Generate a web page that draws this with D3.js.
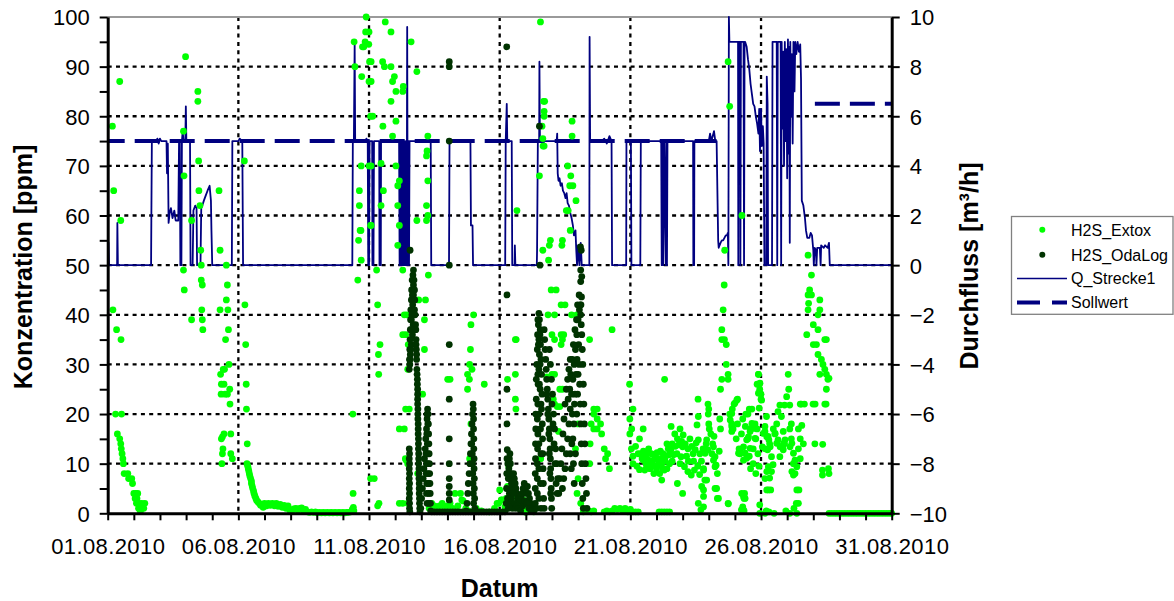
<!DOCTYPE html>
<html>
<head>
<meta charset="utf-8">
<script src="https://cdn.jsdelivr.net/npm/d3@7"></script>
<style>
  html, body { margin: 0; padding: 0; background: #fff; }
  svg { display: block; font-family: "Liberation Sans", Arial, Helvetica, sans-serif; }
</style>
</head>
<body>
<svg id="chart" width="1174" height="601"></svg>
<script>
// ---------------------------------------------------------------
// Data: time in days after 01.08.2010 00:00
// ---------------------------------------------------------------
const dateLabels = ["01.08.2010", "06.08.2010", "11.08.2010", "16.08.2010", "21.08.2010", "26.08.2010", "31.08.2010"];
const ppmTicks = [0, 10, 20, 30, 40, 50, 60, 70, 80, 90, 100];
const flowTicks = [-10, -8, -6, -4, -2, 0, 2, 4, 6, 8, 10];
const seriesNames = ["H2S_Extox", "H2S_OdaLog", "Q_Strecke1", "Sollwert"];

// H2S_Extox [day, ppm]
const extox = [
  [0.18,78],[0.46,87],[0.23,65],[0.5,59],[0.2,41],[0.34,37],[0.51,35],[0.3,20],[0.53,20],[0.37,16],[0.46,15],[0.5,14],[0.52,13],[0.55,12],[0.58,11],[0.6,10],[0.63,8],[0.77,8],[0.8,7],[0.92,7],[0.95,6],[1.0,4],[1.08,4],[1.15,4],[1.05,3],[1.12,3],[1.1,2],[1.2,2],[1.3,2],[1.42,2],[1.18,1],[1.28,1],[1.38,1],[1.25,0.4],
  [2.98,92],[3.45,85],[3.45,83],[2.9,77],[3.48,71],[2.92,68],[3.49,65],[4.26,65],[3.53,62],[3.21,59],[3.56,53],[4.3,53],[3.58,50],[4.54,50],[2.9,49],[3.58,47],[3.62,46],[4.58,46],[2.93,45],[4.54,43],[3.6,41],[4.3,41],[4.6,41],[3.21,39],[3.62,39],[3.64,37],[4.62,37],[4.51,35],[4.64,30],[4.47,29],[4.42,29],[4.32,28],[4.35,26],[4.45,26],[4.67,25],[4.58,24],[4.34,24],[4.49,24],[4.68,22],[4.45,16],[4.71,16],[4.35,15],[4.39,15.4],[4.41,13],[4.39,12],[4.37,10],[4.71,12],[4.77,11],
  [5.23,71],[5.25,42],[5.28,34],[5.3,26],[5.31,21],[5.34,14],[5.33,10],[5.36,9.5],[5.38,9],[5.4,8.5],[5.42,8],[5.44,7.5],[5.47,7],[5.5,6.5],[5.5,6],[5.53,5.5],[5.55,5],[5.58,4.5],[5.6,4],[5.63,3.5],[5.67,3],[5.7,2.6],[5.75,2.3],[5.8,2],[5.85,1.6],[5.9,1.8],[5.95,1.2],[6.0,2],[6.08,1.5],[6.15,2],[6.22,1.6],[6.3,2],[6.38,1.5],[6.45,2],[6.52,1.4],[6.6,1.8],[6.68,1.2],[6.75,1.6],[6.82,1],[6.9,1.5],[6.97,0.6],[7.05,0.5],[7.12,0.9],[7.2,1],[7.28,0.6],[7.35,1],[7.42,1.1],[7.5,0.5],[7.57,0.8],[7.65,0.3],[7.72,0.2],[7.8,0.3],[7.88,0.2],[7.95,0.3],[8.02,0.1],[8.1,0.2],[8.18,0.1],[8.25,0.2],[8.32,0.1],[8.4,0.2],[8.48,0.1],[8.55,0.2],[8.62,0.1],[8.7,0.2],[8.78,0.1],[8.85,0.2],[8.92,0.1],[9.0,0.2],[9.08,0.1],[9.15,0.2],[9.22,0.2],[9.3,0.3],[9.36,0.8],[9.38,20],[9.39,4],[9.4,1.2],[9.42,0.5],
  [9.89,100],[9.87,97],[10.0,97],[9.43,95],[9.8,94],[9.85,95],[9.75,94],[9.99,94.5],[10.02,91],[9.46,90],[9.72,88],[10.0,87],[10.06,80],[9.7,70],[10.0,70],[9.63,65],[9.63,62],[9.66,57],[9.69,57],[9.6,55],[9.7,51],[9.57,47],[10.06,58],[10.06,7],
  [10.62,99],[10.84,97],[11.61,95],[10.08,91],[10.52,91],[10.59,90],[10.84,90],[11.83,89],[10.08,87],[10.97,88],[10.9,87],[11.03,85],[11.31,86],[11.29,85],[10.84,83],[10.14,80],[10.53,78],[11.03,79],[12.25,76],[10.9,76],[12.22,73],[12.2,72],[10.08,70],[10.46,70.5],[11.03,70],[11.16,67],[11.1,66],[12.25,67],[10.55,65],[10.46,62],[11.1,62],[12.2,62],[12.25,60],[12.2,59],[11.83,59],[10.08,58],[11.16,58],[11.1,54],[10.29,49],[11.29,49],[12.27,48],[10.33,42],[12.16,43],[11.35,40],[12.12,39],[14.0,40],[13.9,38],[11.29,36],[10.42,34],[10.36,32],[10.37,28],[12.12,33],[13.88,33],[11.48,29],[13.01,27],[13.77,28],[13.84,27],[13.94,29],[13.77,25],[14.41,26],[12.05,24],[11.54,21],[11.16,17],[11.39,11],[11.48,10],[10.2,7],[10.33,1.5],[10.38,2],[11.16,2],[11.29,2],[11.48,2],[11.86,8],[13.29,4],[15.0,4.7],[15.06,2.7],
  [11.9,43],[11.9,24],[11.4,21],[11.35,17],[11.42,10.7],[13.1,27],[13.85,30],[13.9,18],[13.85,11],[13.5,4],[13.55,2.7],[11.45,40],[11.4,36],[11.5,34],
  [12.3,1],[12.4,2],[12.5,1.5],[12.6,1],[12.7,1.5],[12.8,2],[12.9,1],[13.0,1.5],[13.1,2],[13.2,1],[13.4,1.5],[13.6,2.5],[13.7,1],[13.8,0.5],[14.1,1],[14.3,0.5],[14.6,0.3],[14.8,1],[14.9,2],
  [16.56,99],[16.68,83],[16.72,83],[16.7,81],[16.7,80],[16.62,78],[16.65,75.5],[16.7,74],[16.66,74],[17.77,79],[17.77,76],[16.52,68],[17.6,70],[17.72,68],[17.68,66],[17.8,66],[17.92,63],[15.66,61],[17.55,61],[17.62,61],[17.7,57],[16.94,55],[17.4,55],[16.9,54],[16.65,53],[17.38,54],[16.87,51],[16.97,45],[17.35,42],[16.85,40],[17.75,40],[19.3,37],[17.0,36],[17.35,36],[17.1,35],[17.35,34],[15.6,35],[18.44,35],[15.3,27],[15.6,28],[17.0,28],[17.1,28],[16.8,27.5],[17.4,25],[15.6,23],[15.62,21],[17.1,22],[17.05,23],[19.97,26],
  [17.16,45],[17.5,42],[17.1,40],[17.95,40],[17.45,36],[17.4,35],[15.63,35],[17.3,25],[17.3,21.5],[17.2,21.5],[17.25,16.5],[18.0,18],
  [18.6,21],[18.73,21],[18.6,20],[18.73,19],[18.5,18],[18.86,18],[18.6,17],[18.73,17],[18.9,16],[19.0,13],[19.13,12],[19.05,11],[19.2,9],[18.46,14],[18.44,10],[17.9,13],[18.0,7],[16.57,11],[20.1,21],[20.05,17],[20.1,11.5],[14.96,2],[15.1,2.7],[15.85,1],[15.95,0.5],[16.0,0.2],[17.96,4],[18.1,2],[18.2,0.3],
  [15.2,1.3],[15.25,3],[15.3,5.4],[15.32,8],[15.35,9.4],[15.6,3.4],[15.9,2.7],[16.0,5.4],[16.1,1.3],[16.2,0.5],[16.3,0.3],
  [18.4,0.5],[18.5,0.3],[18.6,0.5],[19.0,0.3],[19.1,0.5],[19.2,0.3],[19.3,0.5],[19.4,1],[19.5,0.8],[19.6,1],[19.7,0.6],[19.8,1],[19.9,0.5],[20.0,0.8],
  [23.74,91],[23.8,82],[24.27,60],[23.61,53],[23.59,46],[23.55,41],[23.5,37],[23.5,35],[23.6,35],[23.67,34],[23.67,30],[23.5,27],[23.74,28],[23.74,27],[23.45,25],[21.31,27],[24.9,28],[24.85,26],[24.95,25],[25.0,24],[25.0,23],
  [22.59,23],[22.97,22],[23.0,21],[22.98,20],[23.0,18],[23.02,17],
  [24.1,23],[23.97,22],[23.9,21],[23.8,20],[23.88,18],[23.93,17],
  [24.55,21],[24.65,21],[24.5,20],[24.77,18],[24.6,17],[24.5,15],[24.8,15],[24.7,13],[24.16,13],[24.2,12],
  [19.98,19],[19.98,16],[20.04,13],[20.1,10],[20.49,17],[20.4,12],[20.5,10.7],[20.55,8.7],
  [21.56,17.5],[21.7,16],[21.9,17],[21.4,14],[21.6,14],[21.8,15],[22.0,13.4],[22.2,13],[22.4,12],
  [20.7,10.7],[20.8,12],[20.95,11],[21.1,10],[21.23,9],[21.3,8.7],
  [20.3,12],[20.45,11],[20.6,10],[20.65,12],[20.75,9],[20.85,10.5],[20.9,8],[21.0,9],[21.05,11],[21.15,12.5],[21.2,10],[21.35,11.5],[21.45,13],[21.5,10],
  [21.94,11.4],[22.07,9.4],[22.2,8.4],[22.33,7.7],[22.45,8.7],
  [22.6,19.5],[22.55,17.8],[22.6,14.8],[22.66,12],
  [22.9,14],[22.96,12.8],[23.15,14],[23.24,11.4],[23.28,9.7],[23.33,8],
  [22.8,9],[22.85,6.7],[22.8,4.7],[23.3,5],[23.33,3],[22.0,4],[21.8,6],[21.2,6.7],[20.35,15],
  [22.92,14.8],[23.18,13.4],[22.86,12.1],[23.18,10.7],[23.24,9.4],[22.8,8.7],[22.92,6.7],[22.73,5.4],[22.8,3.4],[23.24,5],[23.37,3],[23.75,1.9],
  [23.88,20.1],[23.82,18.8],[23.88,17.5],[23.88,16.5],[24.0,22.2],[24.07,22.8],
  [24.65,18.1],[24.71,17.1],[24.58,16.5],[24.52,15.4],[24.77,15.1],[24.45,14.8],[24.33,13.4],[24.58,13.1],[24.2,12.8],[24.39,12.1],[24.45,11.1],[24.33,10.7],[24.14,12.1],
  [24.26,4],[24.33,3.4],[24.39,3],[24.33,0.7],
  [22.6,2],[22.8,1.3],[22.7,0.7],[23.74,2],[24.37,4],[24.35,3],[24.3,1.3],
  [20.2,13.5],[20.25,9.5],[20.35,8.8],[20.5,12.5],[20.55,11.5],[20.62,9.2],[20.7,13],[20.8,9.8],[20.88,11.8],[20.95,9.5],[21.02,12.2],[21.08,9.8],[21.12,8],[21.18,11],[21.25,12],[21.33,10.5],[21.4,9],[21.48,11.8],[21.55,12.8],[21.6,10.5],[21.65,11.8],[21.72,13.5],[21.78,12],[21.85,13.8],[21.9,10],[21.96,14.5],[22.02,15.8],[22.1,14],[22.15,11.5],[22.22,10.5],[22.28,15],[22.35,13.5],[22.42,10.5],[22.48,12.8],[22.52,14.2],[22.58,9.5],[22.65,7.8],[22.72,10.5],[22.78,13],
  [23.08,16],[23.12,12],[23.2,15.5],[23.4,12.5],[23.45,17],[23.42,19],[24.05,15],[24.1,18],[24.25,16],[24.3,19],[24.4,17.5],[24.42,20],[24.85,17],[24.88,12],[24.92,9.5],[24.8,8],[24.7,10],[24.6,9],[24.55,11.5],
  [19.9,0.3],[20.1,0.3],[20.2,0.3],[20.3,0.3],[21.1,0.3],[21.2,0.3],[21.3,0.3],[21.4,0.3],[21.5,0.3],[24.25,0.7],[24.35,0.5],
  [26.8,52],[26.93,48],[26.86,45],[26.8,44],[26.93,44],[26.82,42.3],[26.8,41],[27.25,43],[27.25,41],[27.18,40],[27.0,38],[27.18,37],[26.75,36],[27.0,34],[27.12,34],[27.44,35],[27.5,35],[27.18,32],[27.31,31],[27.37,30],[27.44,29],[27.5,28],[27.56,27],[27.25,28],[27.6,27.2],[27.5,25],
  [27.44,22],[26.99,22],[26.66,22],[26.54,22],[27.06,14],[27.35,8.7],[27.35,7.7],[27.36,13.9],[27.58,9],[27.6,8],[27.07,22],[27.49,22],[26.5,22],
  [24.9,28],[24.96,26.2],[24.9,24.2],[25.02,22.8],[24.93,21.2],[26.04,28],[26.06,25],[25.98,23.5],[26.1,21.8],[25.9,21.8],[25.72,21.8],[25.65,20.5],[25.78,19.5],[25.6,18],[25.47,17],[25.53,16],[25.65,14.8],[25.85,16.5],[25.9,14],[26.16,15],[25.85,12.8],[25.72,11.4],[25.46,9.8],[25.4,8.4],[25.33,7.1],[25.37,4.7],[26.16,18],[26.1,17],[26.43,17],[26.56,17.7],[26.5,15],[26.62,14],[26.43,13],[26.5,11],[26.24,10],[26.18,8.4],[26.24,7.7],[26.37,4.7],[26.35,2],[26.26,1],[26.43,2],
  [25.21,19.5],[25.15,16.5],[25.27,15.5],[25.33,14],[25.15,13],[25.15,17.5],[25.09,16.1],[25.22,15.4],[25.3,14.8],[25.05,13.4],[25.25,12.8],[25.35,13.4],[25.4,11.4],[25.28,9.4],[25.22,8.4],[25.15,7],[25.22,4.7],[25.28,4.7],
  [25.54,16.1],[25.6,14.1],[25.73,13.4],[25.86,14.1],[25.92,14.8],[26.11,13.4],[26.18,14.1],[26.24,12.1],[26.3,10.7],[26.37,9.4],[26.3,8],[26.45,4.7],
  [24.95,1.7],[24.95,0],[25.15,0],[25.5,0],[26.1,0],[26.37,0],[25.2,0.5],[25.3,0.3],[25.95,0.5],
  [27.6,0],[27.7,0],[27.8,0],[27.9,0],[28.0,0],[28.1,0],[28.2,0],[28.3,0],[28.4,0],[28.5,0],[28.6,0],[28.7,0],[28.8,0],[28.9,0],[29.0,0],[29.1,0],[29.2,0],[29.3,0],[29.4,0],[29.5,0],[29.6,0],[29.7,0],[29.8,0],[29.9,0],[30.0,0]
];

// H2S_OdaLog [day, ppm]
const odaLog = [
  [11.57,53],[13.07,91],[13.07,90],[13.07,75],[13.07,50],[13.07,34],[13.07,23],[13.07,15],[13.07,10],[13.07,7],[13.07,5.4],[13.07,4],[13.07,2.7],[15.27,94],[15.28,44],[15.28,25],[15.28,18],[16.52,78],[16.54,50],
  [11.54,29],[11.55,31],[11.56,33],[11.57,35],[11.58,37],[11.59,39],[11.6,41],[11.62,43],[11.63,45],[11.65,47],[11.68,48],[11.7,49],[11.72,47],[11.7,46],[11.74,45],[11.7,44],[11.66,44],[11.75,43],[11.67,42],[11.74,41],[11.64,40],[11.76,40],[11.62,39],[11.69,38],[11.78,38],[11.62,37],[11.79,37],[11.66,36],[11.8,35],[11.62,34],[11.8,34],[11.6,33],[11.81,33],[11.58,32],[11.82,32],[11.57,31],[11.82,31],[11.56,30],[11.83,29],[11.84,28],[11.85,27],[11.85,26],[11.86,25],[11.86,24],[11.86,23],[11.86,22],[11.87,21],[11.87,20],[11.87,19],[11.88,18],[11.88,17],[11.88,16],[11.89,15],[11.89,14],[11.89,13],[11.9,12],[11.9,11],[11.9,10],[11.91,9],[11.91,8],[11.91,7],[11.92,6],[11.92,5],[11.92,4],[11.93,3],[11.93,2],[11.94,1],[11.95,0.3],
  [11.54,13],[11.55,12],[11.54,11],[11.55,10],[11.54,9],[11.55,8],[11.54,7],[11.55,6],[11.54,5],[11.55,4],[11.54,3],[11.55,2],[11.55,1],[11.56,0.3],
  [11.98,1],[12.01,3],[12.04,5],[12.07,7],[12.1,9],[12.12,11],[12.15,13],[12.17,15],[12.2,17],[12.22,19],[12.24,21],[12.26,20],[12.27,18],[12.28,16],[12.29,14],[12.3,12],[12.31,10],[12.32,8],[12.33,6],[12.34,4],[12.35,2],[12.36,0.5],
  [12.21,16],[12.23,14],[12.24,12],[12.25,10],[12.26,8],[12.27,6],[12.28,4],[12.29,2],[12.22,20],[12.25,18],[12.18,12],[12.2,10],[12.19,8],[12.21,6],[12.2,4],[12.22,2],
  [13.72,0.5],[13.75,2],[13.78,4],[13.8,6],[13.83,8],[13.86,10],[13.88,12],[13.9,14],[13.92,16],[13.94,18],[13.96,20],[13.98,22],[13.99,21],[14.0,19],[14.0,17],[14.01,15],[14.01,13],[14.02,11],[14.02,9],[14.03,7],[14.03,5],[14.04,3],[14.05,1],[13.93,14],[13.95,12],[13.96,10],[13.97,8],[13.98,6],[13.99,4],[14.0,2],
  [12.4,0.3],[12.5,0.3],[12.6,0.3],[12.7,0.3],[12.8,0.3],[12.9,0.3],[13.0,0.3],[13.1,0.3],[13.2,0.3],[13.3,0.3],[13.4,0.3],[13.5,0.3],[13.6,0.3],[13.7,0.3],[13.8,0.3],[13.9,0.3],[14.0,0.3],[14.1,0.3],[14.2,0.3],[14.3,0.3],[14.4,0.3],[14.5,0.3],[14.6,0.3],[14.7,0.3],[14.8,0.3],[14.9,0.3],[15.0,0.3],[15.1,0.3],[15.2,0.3],
  [15.25,2],[15.26,5],[15.27,8],[15.28,11],[15.29,12.8],[15.31,10],[15.33,7],[15.35,9],[15.37,11],[15.39,12],[15.41,10],[15.43,8],[15.45,6],[15.47,5],[15.5,7],[15.53,8],[15.56,7],[15.59,6],[15.62,5],[15.65,4],[15.68,3],[15.71,3.5],[15.74,3],[15.78,2.5],[15.82,3.5],[15.86,4],[15.9,5],[15.94,6],[15.98,5],[16.02,4],[16.06,5.4],[16.1,4],[16.14,3],[16.18,2],[16.22,1.5],[16.26,1],[16.3,0.5],
  [15.3,3],[15.33,1],[15.37,4],[15.4,2],[15.44,3],[15.48,1],[15.52,4],[15.56,2],[15.6,1],[15.66,1.5],[15.72,1],[15.8,0.5],[15.88,1.5],[15.96,2.5],[16.04,2],[16.12,1],[16.2,0.5],
  [16.5,40.3],[16.52,39],[16.48,38],[16.55,37],[16.45,36],[16.5,35],[16.56,34],[16.44,33],[16.52,32],[16.58,31],[16.42,30],[16.5,29],[16.6,28],[16.4,27],[16.47,26],[16.55,25],[16.62,24],[16.4,23],[16.46,22],[16.6,21],[16.38,20],[16.44,19],[16.63,18],[16.38,17],[16.46,16],[16.64,15],[16.37,14],[16.45,13],[16.65,12],[16.37,11],[16.44,10],[16.66,9],[16.36,8],[16.44,7],[16.67,6],[16.36,5],[16.44,4],[16.68,3],[16.36,2],[16.42,1],[16.7,1],
  [16.46,39],[16.54,36],[16.48,34],[16.54,30],[16.46,28],[16.52,26],[16.58,22],[16.5,20],[16.56,17],[16.5,14],[16.58,12],[16.5,9],[16.56,6],[16.5,3],[16.58,1],
  [16.7,37],[16.72,35],[16.74,33],[16.76,31],[16.78,29],[16.8,27],[16.82,25],[16.84,23],[16.86,21],[16.88,19],[16.9,17],[16.92,15],[16.93,13],[16.94,11],[16.95,9],[16.96,7],[16.97,5],[16.98,3],[16.99,1],
  [16.8,24],[16.84,20],[16.88,16],[16.9,12],[16.92,8],[16.95,4],[17.0,22],[17.04,18],[17.08,14],[17.12,10],[17.16,6],[17.2,4],
  [16.9,33],[16.94,30],[16.98,27],[17.02,24],[17.06,20],[17.1,17],[17.14,13],[17.18,10],[17.22,7],[17.26,4],[17.3,7],[17.34,10],[17.38,13],[17.42,16],[17.46,19],[17.5,22],[17.55,25],[17.6,27],[17.65,29],[17.7,31],
  [17.4,5],[17.45,7],[17.5,9],[17.55,12],[17.6,15],[17.65,18],[17.7,21],[17.75,24],[17.8,27],[17.85,30],[17.9,33],[17.95,36],[18.0,39],[18.05,41],[18.09,42],[18.1,46.7],[18.1,40],[18.12,38],
  [17.62,23],[17.68,25],[17.72,28],[17.78,31],[17.82,34],[17.88,37],[17.94,39],[17.98,42],[18.04,44],
  [17.78,20],[17.8,15],[17.82,10],[17.85,6],[17.9,12],[17.95,20],[18.0,28],[17.88,24],[17.92,28],[17.96,31],[18.02,34],
  [17.7,12],[17.74,9],[17.76,14],[17.84,18],[17.86,22],[17.98,24],[18.04,30],[18.06,26],[18.08,22],[18.1,18],[18.12,14],[18.14,10],[18.16,6],[18.18,3],[18.2,1],
  [18.09,53.7],[18.12,53],[18.1,49],[18.14,47.7],[18.13,43.6],[18.11,42],
  [18.14,36],[18.16,33],[18.18,30],[18.2,26],[18.22,22],[18.24,18],[18.26,14],[18.28,10],[18.3,7],[18.32,4],[18.34,1]
];

// Q_Strecke1 [day, m³/h]
const flowQ = [
  [0.0,1.0],[0.03,0.9],[0.05,0],
  [0.36,0],[0.37,1.7],[0.39,0],
  [1.66,0],[1.67,1.8],[1.69,5.0],[1.85,5.0],[1.9,5.1],[1.95,4.9],[2.0,5.1],[2.05,5.0],[2.25,5.0],
  [2.27,3.7],[2.3,4.9],[2.33,1.7],[2.37,2.1],[2.42,2.3],[2.48,1.9],[2.55,2.2],[2.6,1.8],[2.7,1.8],
  [2.73,5.0],[2.76,5.0],[2.78,0],[2.82,0],[2.84,5.0],[2.87,5.4],[2.9,5.0],[2.97,5.0],[2.99,6.4],[3.01,5.0],[3.15,5.0],
  [3.17,0],[3.25,0],[3.28,2.2],[3.35,2.4],[3.4,2.3],[3.42,0],[3.55,0],[3.58,2.3],[3.62,2.4],[3.68,2.6],[3.75,2.8],[3.82,3.0],[3.9,3.2],[3.95,2.6],[3.97,1.4],[4.0,0],
  [4.75,0],[4.77,5.0],[5.0,5.0],[5.05,5.1],[5.15,5.0],[5.18,0],
  [9.36,0],[9.38,5.0],[9.42,5.0],[9.45,8.9],[9.47,5.0],[9.85,5.0],[9.9,5.1],[9.95,5.0],[9.97,0],[10.0,0],[10.02,5.0],[10.12,5.0],[10.13,0],[10.17,0],[10.19,5.0],[10.39,5.0],[10.4,0],[10.45,0],[10.46,5.0],[11.15,5.0],
  [11.17,0],[11.19,5.0],[11.22,0],[11.24,5.0],[11.27,0],[11.29,5.0],[11.31,0],[11.33,5.0],[11.36,0],[11.38,5.0],[11.4,0],[11.42,5.0],[11.44,0],[11.46,9.6],[11.47,5.0],[11.49,0],[11.51,5.0],[11.53,0],[11.55,5.0],
  [12.36,5.0],[12.38,0],[13.06,0],[13.08,5.0],[13.88,5.0],[13.9,1.6],[13.96,1.6],[13.98,0],
  [15.21,0],[15.23,5.0],[15.27,6.5],[15.29,5.0],[15.46,5.0],[15.48,0],[15.57,0],[15.58,0.8],[15.6,0],
  [16.42,0],[16.43,0.6],[16.46,5.0],[16.51,5.0],[16.52,8.2],[16.54,5.0],[17.18,5.0],[17.2,5.3],
  [17.22,3.7],[17.25,3.4],[17.29,3.5],[17.33,3.2],[17.38,3.3],[17.42,3.0],[17.47,2.9],[17.52,2.7],[17.56,2.9],[17.6,2.5],[17.65,2.4],[17.7,2.1],[17.75,1.9],[17.8,1.6],[17.84,1.2],[17.9,1.4],[17.93,0.6],[17.96,0],[18.0,0.8],[18.05,0],[18.1,0.9],[18.14,0],
  [18.43,0],[18.44,9.2],[18.46,5.0],[18.9,5.0],[19.0,5.1],[19.1,4.9],[19.2,5.2],[19.28,5.0],[19.3,0],
  [19.84,0],[19.85,5.0],[20.02,5.0],[20.04,0],[20.38,0],[20.4,5.0],[21.18,5.0],[21.2,0],[21.23,5.0],[21.26,0],[21.3,5.0],[21.36,0],[21.38,5.0],[21.4,0],[21.42,5.0],
  [22.4,5.0],[22.41,0],[22.44,0],[22.45,5.0],[23.0,5.0],[23.05,5.3],[23.1,5.0],[23.2,5.4],[23.25,5.0],[23.3,5.0],
  [23.33,3.0],[23.36,1.0],[23.38,0.7],[23.45,0.9],[23.5,1.0],[23.55,1.0],[23.6,1.1],[23.65,1.2],[23.7,1.2],[23.73,1.3],[23.75,0],[23.77,10.0],[23.79,9.0],
  [24.12,9.0],[24.13,0],[24.15,9.0],[24.2,9.0],[24.21,0],[24.23,9.0],[24.33,9.0],[24.35,0],[24.37,9.0],[24.39,9.0],
  [24.45,8.8],[24.5,8.3],[24.55,7.9],[24.6,7.3],[24.65,6.9],[24.7,6.5],[24.75,6.4],[24.8,6.0],[24.85,5.7],[24.9,5.3],[24.93,6.3],[24.96,4.6],[25.0,6.3],[25.03,4.8],[25.07,5.6],[25.1,4.9],[25.13,0],
  [25.2,0],[25.22,7.6],[25.25,6.5],[25.27,0],[25.42,0],[25.44,9.0],[25.6,9.0],[25.62,0],[25.64,9.0],[25.75,9.0],[25.77,0],[25.79,9.0],
  [25.82,5.5],[25.85,8.6],[25.88,4.0],[25.91,9.0],[25.94,5.0],[25.97,8.7],[26.0,3.5],[26.03,9.1],[26.06,4.5],[26.08,8.8],[26.1,0.9],[26.12,9.0],[26.15,6.0],[26.18,8.5],[26.21,4.9],[26.24,9.0],[26.28,7.0],[26.31,9.0],[26.35,8.5],[26.4,9.0],[26.45,8.6],[26.5,8.9],[26.53,7.5],
  [26.56,2.6],[26.62,2.4],[26.68,1.9],[26.72,1.4],[26.77,1.1],[26.85,1.1],[26.9,1.3],[26.95,1.2],[27.0,0.6],[27.02,0],[27.05,0.7],[27.1,0.6],[27.12,0],[27.15,0.7],[27.25,0.7],[27.28,0],[27.3,0.8],[27.4,0.7],[27.45,0.8],[27.55,0.7],[27.6,0.9],[27.63,0],[30.0,0]
];

// Sollwert [day, m³/h]; null marks a gap
const setpoint = [[0,5],[23.3,5],[23.3,null],[27.06,6.5],[30,6.5]];

// ---------------------------------------------------------------
// Layout and scales
// ---------------------------------------------------------------
const svg = d3.select("#chart");
const plot = { left: 107.7, right: 891.7, top: 17, bottom: 513.3 };
const t0 = new Date(2010, 7, 1);
const toDate = d => new Date(t0.getTime() + d * 864e5);

const x = d3.scaleTime().domain([t0, new Date(2010, 7, 31)]).range([plot.left, plot.right]);
const yL = d3.scaleLinear().domain([0, 100]).range([plot.bottom, plot.top]);
const yR = d3.scaleLinear().domain([-10, 10]).range([plot.bottom, plot.top]);

const navy = "#000080", light = "#00ff00", dark = "#003300";

// ---------------------------------------------------------------
// Gridlines
// ---------------------------------------------------------------
const grid = svg.append("g").attr("stroke", "#000").attr("stroke-width", 2.3).attr("stroke-dasharray", "4,4.3");
grid.selectAll("line.h").data(ppmTicks.filter(v => v > 0 && v < 100)).join("line").attr("class", "h")
  .attr("x1", plot.left).attr("x2", plot.right).attr("y1", d => yL(d)).attr("y2", d => yL(d));
grid.selectAll("line.v").data([5, 10, 15, 20, 25]).join("line").attr("class", "v")
  .attr("x1", d => x(toDate(d))).attr("x2", d => x(toDate(d))).attr("y1", plot.top).attr("y2", plot.bottom);
svg.append("line").attr("x1", plot.left).attr("x2", plot.right).attr("y1", plot.top).attr("y2", plot.top)
  .attr("stroke", "#9a9a9a").attr("stroke-width", 2);

// ---------------------------------------------------------------
// Flow lines (secondary axis)
// ---------------------------------------------------------------
const flowLine = d3.line().x(d => x(toDate(d[0]))).y(d => yR(d[1]));
svg.append("path").datum(flowQ).attr("d", flowLine)
  .attr("fill", "none").attr("stroke", navy).attr("stroke-width", 1.8).attr("stroke-linejoin", "round");

// setpoint drawn as separate runs
const runs = [];
let cur = [];
setpoint.forEach(p => { if (p[1] == null) { if (cur.length) runs.push(cur); cur = []; } else cur.push(p); });
if (cur.length) runs.push(cur);
const dashOffsets = [8, 0];
runs.forEach((r, i) => {
  svg.append("path").datum(r).attr("d", flowLine).attr("fill", "none")
    .attr("stroke", navy).attr("stroke-width", 4).attr("stroke-dasharray", "25,10")
    .attr("stroke-dashoffset", dashOffsets[i] || 0);
});

// ---------------------------------------------------------------
// Concentration points
// ---------------------------------------------------------------
svg.append("g").selectAll("circle").data(extox).join("circle")
  .attr("cx", d => x(toDate(d[0]))).attr("cy", d => yL(d[1])).attr("r", 3.4).attr("fill", light);
svg.append("g").selectAll("circle").data(odaLog).join("circle")
  .attr("cx", d => x(toDate(d[0]))).attr("cy", d => yL(d[1])).attr("r", 3.4).attr("fill", dark);

// ---------------------------------------------------------------
// Axes
// ---------------------------------------------------------------
function styleAxis(g) {
  g.select(".domain").attr("stroke", "#000").attr("stroke-width", 3);
  g.selectAll(".tick line").attr("stroke", "#000").attr("stroke-width", 2);
  g.selectAll(".tick text").attr("fill", "#000").attr("font-size", 22)
    .attr("font-family", "Liberation Sans, Arial, sans-serif");
}
const dayTicks = d3.range(0, 31).map(toDate);
const xAxis = d3.axisBottom(x).tickValues(dayTicks).tickSize(7).tickSizeOuter(0).tickPadding(18)
  .tickFormat((d, i) => (i % 5 === 0 ? dateLabels[i / 5] : ""));
svg.append("g").attr("transform", `translate(0,${plot.bottom})`).call(xAxis).call(styleAxis)
  .selectAll(".tick text").attr("letter-spacing", "0.4px");

const yAxisL = d3.axisLeft(yL).tickValues(d3.range(0, 101, 5)).tickSize(8).tickSizeOuter(0).tickPadding(10)
  .tickFormat(d => (ppmTicks.includes(d) ? d : ""));
svg.append("g").attr("transform", `translate(${plot.left},0)`).call(yAxisL).call(styleAxis)
  .selectAll(".tick text").attr("dy", "0.36em");

const yAxisR = d3.axisRight(yR).tickValues(flowTicks).tickSize(8).tickSizeOuter(0).tickPadding(10);
svg.append("g").attr("transform", `translate(${plot.right},0)`).call(yAxisR).call(styleAxis)
  .selectAll(".tick text").attr("dy", "0.36em");

// axis titles
svg.append("text").attr("transform", "translate(32,267) rotate(-90)").attr("text-anchor", "middle")
  .attr("font-size", 25).attr("font-weight", "bold").text("Konzentration [ppm]");
svg.append("text").attr("transform", "translate(978,266) rotate(-90)").attr("text-anchor", "middle")
  .attr("font-size", 25).attr("font-weight", "bold").text("Durchfluss [m³/h]");
svg.append("text").attr("x", (plot.left + plot.right) / 2).attr("y", 597).attr("text-anchor", "middle")
  .attr("font-size", 25).attr("font-weight", "bold").text("Datum");

// ---------------------------------------------------------------
// Legend
// ---------------------------------------------------------------
const lg = svg.append("g");
lg.append("rect").attr("x", 1011.5).attr("y", 216.5).attr("width", 161.5).attr("height", 97.8)
  .attr("fill", "#fff").attr("stroke", "#808080").attr("stroke-width", 1.3);
const rowY = [229.7, 254.8, 278.6, 302.5];
lg.append("circle").attr("cx", 1042.3).attr("cy", rowY[0]).attr("r", 3).attr("fill", light);
lg.append("circle").attr("cx", 1042.3).attr("cy", rowY[1]).attr("r", 3).attr("fill", dark);
lg.append("line").attr("x1", 1017).attr("x2", 1067).attr("y1", rowY[2]).attr("y2", rowY[2])
  .attr("stroke", navy).attr("stroke-width", 1.5);
lg.append("line").attr("x1", 1017).attr("x2", 1067).attr("y1", rowY[3]).attr("y2", rowY[3])
  .attr("stroke", navy).attr("stroke-width", 4).attr("stroke-dasharray", "23,12");
lg.selectAll("text").data(seriesNames).join("text")
  .attr("x", 1071).attr("y", (d, i) => rowY[i] + 5.8).attr("font-size", 16).attr("fill", "#000").text(d => d);
</script>
</body>
</html>
